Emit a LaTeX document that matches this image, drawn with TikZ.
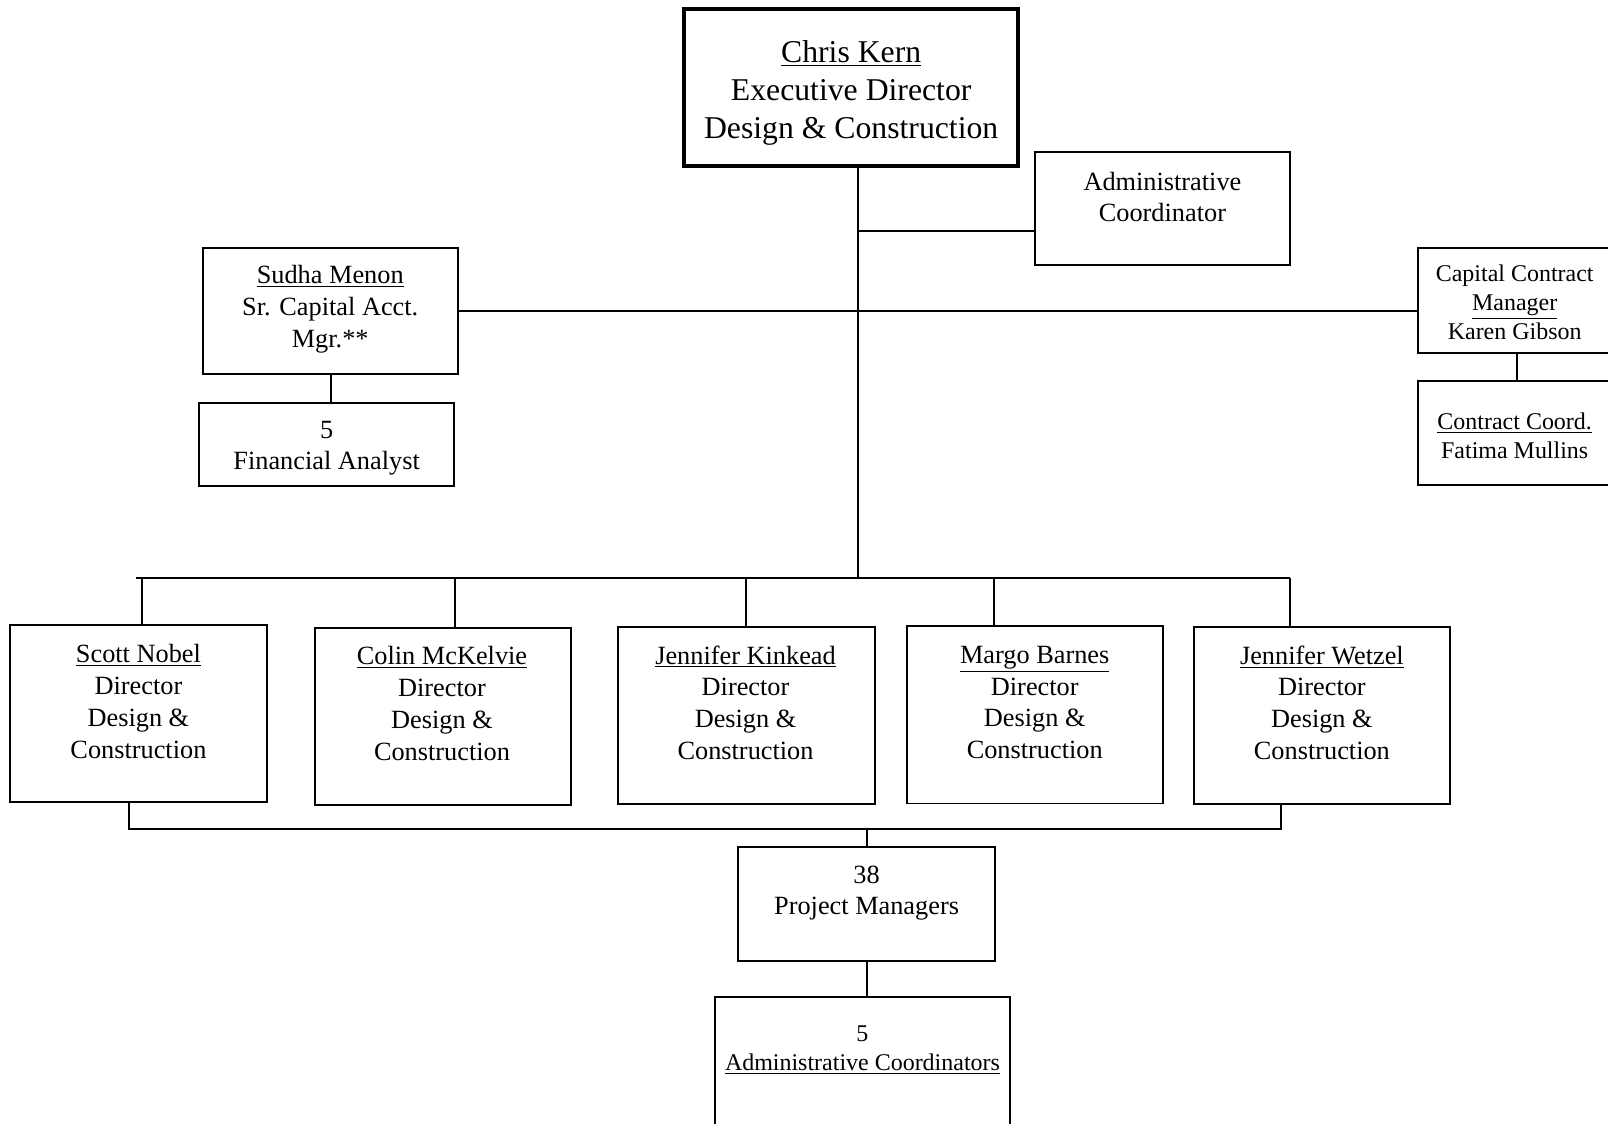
\documentclass[tikz,border=0pt]{standalone}
\usepackage{fontspec}
\setmainfont{Liberation Serif}

\tikzset{
  box/.style={draw, minimum width=5cm},
  boxtext/.style={align=center, inner sep=0pt, font={\fontsize{14.6}{17.6}\selectfont}},
  smalltext/.style={align=center, inner sep=0pt, font={\fontsize{13.3}{16.2}\selectfont}},
}

\begin{document}
\begin{tikzpicture}[line width=1.1pt]
    \useasboundingbox (0,0) rectangle (31.36,-21.92);
    \node[box, line width=2.3pt, minimum width=6.52cm, minimum height=3.06cm] at (16.6,-1.71) (ceo) {};
    \node[boxtext, font={\fontsize{17.6}{21}\selectfont}] at (16.6,-1.81) (ceo-t) {\underline{Chris Kern}\\Executive Director\\Design \& Construction};
    \node[box, minimum width=4.98cm, minimum height=2.2cm] at (22.67,-4.06) (admin) {};
    \node[boxtext] at (22.67,-3.84) (admin-t) {Administrative\\Coordinator};
    \node[box, minimum width=4.98cm, minimum height=2.46cm] at (6.45,-6.07) (sudha) {};
    \node[boxtext] at (6.44,-6.03) (sudha-t) {\underline{Sudha Menon}\\Sr. Capital Acct.\\Mgr.**};
    \node[box, minimum width=4.98cm, minimum height=1.62cm] at (6.37,-8.67) (fa) {};
    \node[boxtext] at (6.37,-8.74) (fa-t) {5\\Financial Analyst};
    \node[box, minimum width=3.84cm, minimum height=2.04cm] at (29.58,-5.86) (capital) {};
    \node[smalltext] at (29.54,-5.89) (capital-t) {Capital Contract\\\underline{Manager}\\Karen Gibson};
    \node[box, minimum width=3.84cm, minimum height=2.02cm] at (29.58,-8.45) (contract) {};
    \node[smalltext] at (29.54,-8.50) (contract-t) {\underline{Contract Coord.}\\Fatima Mullins};
    % directors
    \node[box, minimum height=3.46cm] at (2.70,-13.91) (scott) {};
    \node[boxtext] at (2.70,-13.68) (scott-t) {\underline{Scott Nobel}\\Director\\Design \&\\Construction};
    \node[box, minimum height=3.46cm] at (8.64,-13.97) (colin) {};
    \node[boxtext] at (8.62,-13.72) (colin-t) {\underline{Colin McKelvie}\\Director\\Design \&\\Construction};
    \node[box, minimum height=3.46cm] at (14.56,-13.95) (kinkead) {};
    \node[boxtext] at (14.54,-13.70) (kinkead-t) {\underline{Jennifer Kinkead}\\Director\\Design \&\\Construction};
    \node[box, minimum height=3.46cm] at (20.18,-13.94) (barnes) {};
    \node[boxtext] at (20.18,-13.70) (barnes-t) {\underline{Margo Barnes}\\Director\\Design \&\\Construction};
    \node[box, minimum height=3.46cm] at (25.78,-13.95) (wetzel) {};
    \node[boxtext] at (25.78,-13.70) (wetzel-t) {\underline{Jennifer Wetzel}\\Director\\Design \&\\Construction};
    % staff
    \node[box, minimum height=2.22cm] at (16.90,-17.63) (pm) {};
    \node[boxtext] at (16.90,-17.42) (pm-t) {38\\Project Managers};
    \node[box, minimum width=5.76cm, minimum height=2.76cm] at (16.82,-20.82) (admins) {};
    \node[smalltext] at (16.82,-20.48) (admins-t) {5\\\underline{Administrative Coordinators}};
    % bus points
    \coordinate (trunk) at (16.74,-11.28);
    \coordinate (bus-l) at (2.66,-11.28);
    \coordinate (b1) at (2.76,-11.28);
    \coordinate (b2) at (8.88,-11.28);
    \coordinate (b3) at (14.54,-11.28);
    \coordinate (b4) at (19.38,-11.28);
    \coordinate (b5) at (25.16,-11.28);
    \coordinate (low-l) at (2.52,-16.16);
    \coordinate (low-r) at (24.98,-16.16);
    % connectors
    \draw (ceo.south -| trunk) -- (trunk);
    \draw (admin.190) -- (admin.190 -| trunk);
    \draw (sudha.east) -- (sudha.east -| capital.west);
    \draw (sudha.south) -- (sudha.south |- fa.north);
    \draw (capital.south) -- (capital.south |- contract.north);
    \draw (bus-l) -- (b5);
    \draw (b1) -- (b1 |- scott.north);
    \draw (b2) -- (b2 |- colin.north);
    \draw (b3) -- (b3 |- kinkead.north);
    \draw (b4) -- (b4 |- barnes.north);
    \draw (b5) -- (b5 |- wetzel.north);
    \draw (low-l |- scott.south) -- (low-l) -- (low-r) -- (low-r |- wetzel.south);
    \draw (pm.north) -- (pm.north |- low-l);
    \draw (pm.south) -- (pm.south |- admins.north);
\end{tikzpicture}
\end{document}
